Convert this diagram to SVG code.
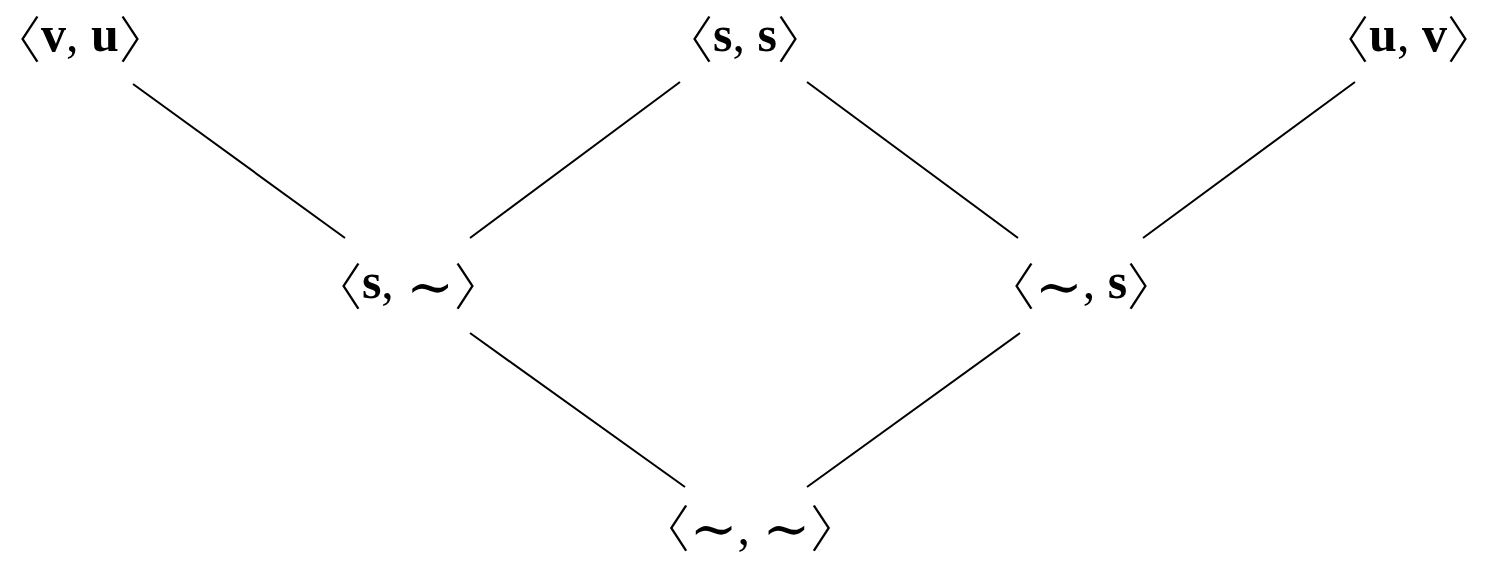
<svg xmlns="http://www.w3.org/2000/svg" width="1485" height="562" viewBox="0 0 1485 562">
<style>
text{font-family:"Liberation Serif","DejaVu Serif",serif;font-size:50px;fill:#000;text-anchor:middle}
.b{font-weight:bold}
.k{font-family:"Noto Sans CJK JP","Noto Sans CJK SC",sans-serif;font-size:50px;font-weight:300}
.t{font-family:"DejaVu Serif",serif;font-size:57px}
line{stroke:#000;stroke-width:2}
</style>
<rect width="1485" height="562" fill="#fff"/>
<g id="connectors">
<line x1="133" y1="84" x2="345" y2="238"/>
<line x1="680" y1="82" x2="470" y2="238"/>
<line x1="807" y1="82" x2="1018" y2="238"/>
<line x1="1355" y1="82" x2="1143" y2="238"/>
<line x1="470" y1="333" x2="685" y2="487"/>
<line x1="1020" y1="333" x2="807" y2="487"/>
</g>
<g id="vu"><text x="80" y="58"><tspan class="k">〈</tspan><tspan class="b" dy="-7">v</tspan>, <tspan class="b">u</tspan><tspan class="k" dy="7">〉</tspan></text></g>
<g id="ss"><text x="745" y="58"><tspan class="k">〈</tspan><tspan class="b" dy="-7">s</tspan>, <tspan class="b">s</tspan><tspan class="k" dy="7">〉</tspan></text></g>
<g id="uv"><text x="1408" y="58"><tspan class="k">〈</tspan><tspan class="b" dy="-7">u</tspan>, <tspan class="b">v</tspan><tspan class="k" dy="7">〉</tspan></text></g>
<g id="st"><text x="408" y="305"><tspan class="k">〈</tspan><tspan class="b" dy="-7">s</tspan>, <tspan class="t" dy="8">∼</tspan><tspan class="k" dy="-1">〉</tspan></text></g>
<g id="ts"><text x="1081" y="305"><tspan class="k">〈</tspan><tspan class="t" dy="1">∼</tspan><tspan dy="-8">, </tspan><tspan class="b">s</tspan><tspan class="k" dy="7">〉</tspan></text></g>
<g id="tt"><text x="750" y="547"><tspan class="k">〈</tspan><tspan class="t" dy="1">∼</tspan><tspan dy="-4">, </tspan><tspan class="t" dy="4">∼</tspan><tspan class="k" dy="-1">〉</tspan></text></g>
</svg>
